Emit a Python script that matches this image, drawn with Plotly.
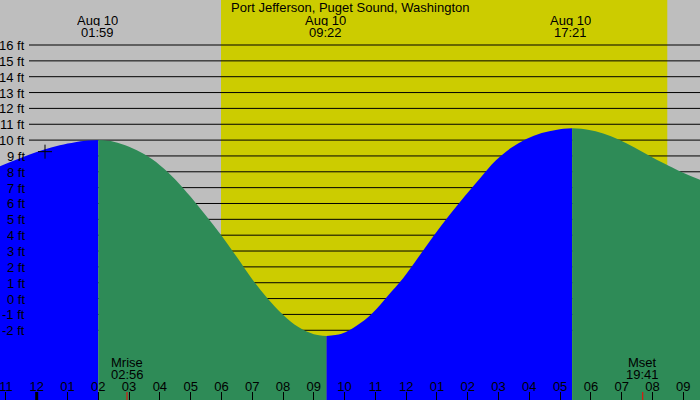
import plotly.graph_objects as go

# ---- data (hours after midnight Aug 10, heights in ft) ----
rise1_h = [-1.25, -0.75, -0.25, 0.25, 0.75, 1.25, 1.6, 2.0]
rise1_ft = [8.30, 8.70, 9.07, 9.41, 9.68, 9.87, 9.96, 10.0]

fall1_h = [2.0, 2.5, 3.0, 3.5, 4.0, 4.5, 5.0, 5.5, 6.0, 6.5, 7.0, 7.5, 8.0, 8.5, 9.0, 9.41]
fall1_ft = [10.0, 9.90, 9.58, 9.10, 8.42, 7.52, 6.42, 5.22, 3.98, 2.62, 1.22, 0.0, -1.02, -1.80, -2.25, -2.36]

rise2_h = [9.41, 9.9, 10.4, 10.9, 11.4, 11.9, 12.4, 12.9, 13.4, 13.9, 14.4, 14.9, 15.4, 15.9, 16.4, 16.9, 17.39]
rise2_ft = [-2.36, -2.22, -1.70, -0.92, 0.17, 1.28, 2.62, 3.98, 5.25, 6.45, 7.60, 8.70, 9.50, 10.07, 10.45, 10.66, 10.74]

fall2_h = [17.39, 17.9, 18.4, 18.9, 19.4, 19.9, 20.4, 20.9, 21.6]
fall2_ft = [10.74, 10.66, 10.42, 10.04, 9.55, 9.02, 8.50, 8.02, 7.45]

extreme_hours = [1.983, 9.367, 17.35]
extreme_dates = ["Aug 10", "Aug 10", "Aug 10"]
extreme_times = ["01:59", "09:22", "17:21"]

moon_hours = [2.933, 19.683]
moon_names = ["Mrise", "Mset"]
moon_times = ["02:56", "19:41"]

sunrise_hour = 5.986
sunset_hour = 20.48

now_hour = [0.27]
now_ft = [9.27]

tick_hours = list(range(-1, 22))
tick_labels = ["11", "12", "01", "02", "03", "04", "05", "06", "07", "08", "09", "10", "11",
               "12", "01", "02", "03", "04", "05", "06", "07", "08", "09"]

levels = list(range(-2, 17))
level_labels = [f"{v} ft" for v in levels]

title = "Port Jefferson, Puget Sound, Washington"

# ---- styles ----
BLUE = "#0000FF"
GREEN = "#2E8B57"
YELLOW = "#CCCC00"
GRAY = "#BEBEBE"
FONT = "Liberation Sans"
FS = 13
X_RANGE = [-1.192, 21.543]
Y_RANGE = [-6.40, 18.84]
FLOOR = -10

fig = go.Figure()

segments = [(rise1_h, rise1_ft, BLUE), (fall1_h, fall1_ft, GREEN),
            (rise2_h, rise2_ft, BLUE), (fall2_h, fall2_ft, GREEN)]
for hs, fts, col in segments:
    fig.add_trace(go.Scatter(x=[hs[0], hs[-1]], y=[FLOOR, FLOOR], mode="lines",
                             line=dict(width=0), hoverinfo="skip", showlegend=False))
    fig.add_trace(go.Scatter(x=hs, y=fts, mode="lines",
                             line=dict(width=0, shape="spline", smoothing=1.0),
                             fill="tonexty", fillcolor=col,
                             hoverinfo="skip", showlegend=False))

fig.add_trace(go.Scatter(x=now_hour, y=now_ft, mode="markers",
                         marker=dict(symbol="cross-thin", size=10, color="black",
                                     line=dict(color="black", width=1)),
                         hoverinfo="skip", showlegend=False))

shapes = [dict(type="rect", xref="x", yref="paper", x0=sunrise_hour, x1=sunset_hour,
               y0=0, y1=1, fillcolor=YELLOW, line=dict(width=0), layer="below")]
for v in levels:
    shapes.append(dict(type="line", xref="paper", yref="y", x0=29 / 700, x1=1, y0=v, y1=v,
                       line=dict(color="black", width=1), layer="below"))
# thick midnight tick
shapes.append(dict(type="line", xref="x", yref="paper", x0=0, x1=0, y0=0, y1=8 / 400,
                   line=dict(color="black", width=3)))
for mh in moon_hours:
    shapes.append(dict(type="line", xref="x", yref="paper", x0=mh, x1=mh, y0=0, y1=8 / 400,
                       line=dict(color="red", width=1)))

TXT = dict(family=FONT, size=FS, color="black")
annotations = [dict(text=title, xref="paper", yref="paper", x=0.5, y=1 - 7.5 / 400,
                    xanchor="center", yanchor="middle", showarrow=False, font=TXT)]
for h, d, t in zip(extreme_hours, extreme_dates, extreme_times):
    annotations.append(dict(text=d, xref="x", yref="paper", x=h, y=1 - 20 / 400,
                            xanchor="center", yanchor="middle", showarrow=False,
                            height=12, font=TXT))
    annotations.append(dict(text=t, xref="x", yref="paper", x=h, y=1 - 32 / 400,
                            xanchor="center", yanchor="middle", showarrow=False,
                            height=12, font=TXT))
for h, n, t in zip(moon_hours, moon_names, moon_times):
    annotations.append(dict(text=n, xref="x", yref="paper", x=h, y=1 - 362 / 400,
                            xanchor="center", yanchor="middle", showarrow=False,
                            height=12, font=TXT))
    annotations.append(dict(text=t, xref="x", yref="paper", x=h, y=1 - 374 / 400,
                            xanchor="center", yanchor="middle", showarrow=False,
                            height=12, font=TXT))
for v, lab in zip(levels, level_labels):
    annotations.append(dict(text=lab, xref="paper", yref="y", x=27 / 700, y=v,
                            xanchor="right", yanchor="middle", showarrow=False,
                            height=14, font=TXT))

fig.update_layout(
    width=700, height=400,
    margin=dict(l=0, r=0, t=0, b=0, pad=0, autoexpand=False),
    paper_bgcolor=GRAY, plot_bgcolor=GRAY,
    shapes=shapes, annotations=annotations,
    xaxis=dict(range=X_RANGE, showgrid=False, zeroline=False, showline=False,
               automargin=False,
               tickmode="array", tickvals=tick_hours, ticktext=tick_labels,
               ticks="inside", ticklen=8, tickwidth=1, tickcolor="black",
               ticklabelposition="inside", ticklabeloverflow="allow",
               ticklabelstandoff=-2,
               tickfont=TXT, fixedrange=True),
    yaxis=dict(range=Y_RANGE, visible=False, showgrid=False, zeroline=False,
               automargin=False, fixedrange=True),
    hovermode=False,
)

fig.write_html("out.html", config={"displayModeBar": False},
               post_script="document.body.style.margin='0';document.body.style.padding='0';"
                           "document.body.style.overflow='hidden';")
